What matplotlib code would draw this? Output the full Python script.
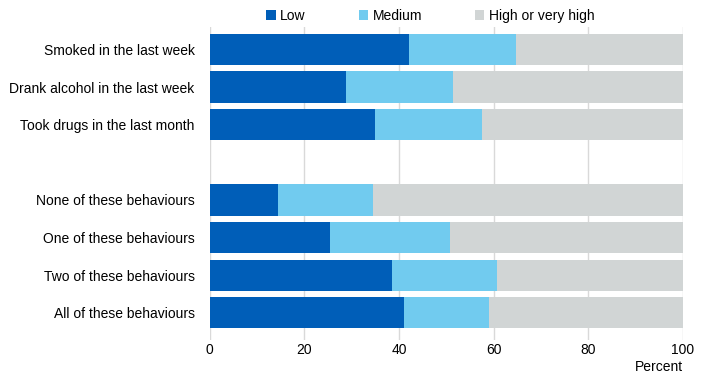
import matplotlib.pyplot as plt
import numpy as np

categories = ["Smoked in the last week", "Drank alcohol in the last week",
              "Took drugs in the last month", "",
              "None of these behaviours", "One of these behaviours",
              "Two of these behaviours", "All of these behaviours"]
low = [42.1, 28.8, 34.9, 0, 14.4, 25.4, 38.5, 41.0]
medium = [22.6, 22.6, 22.6, 0, 20.1, 25.3, 22.2, 18.0]
high = [35.3, 48.6, 42.5, 0, 65.5, 49.3, 39.3, 41.0]
series_names = ["Low", "Medium", "High or very high"]
colors = ["#005EB8", "#71CBEF", "#D1D5D5"]

plt.rcParams['font.family'] = ['Liberation Sans', 'DejaVu Sans']

fig = plt.figure(figsize=(7.09, 3.84), dpi=100)
ax = fig.add_axes([0.296, 0.115, 0.667, 0.815])

y = np.arange(len(categories))
left = np.zeros(len(categories))
for vals, name, c in zip([low, medium, high], series_names, colors):
    ax.barh(y, vals, left=left, height=0.83, color=c, label=name, zorder=3)
    left += np.array(vals)

ax.set_xlim(0, 100)
ax.set_ylim(7.72, -0.6)
ax.set_yticks(y)
ax.set_yticklabels(categories, fontsize=10)
ax.set_xticks(range(0, 101, 20))
ax.tick_params(axis='x', labelsize=10, length=0, pad=2)
ax.tick_params(axis='y', length=0, pad=11)
ax.grid(axis='x', color='#D9D9D9', linewidth=1, zorder=0)
for s in ax.spines.values():
    s.set_visible(False)

fig.text(0.963, 0.025, "Percent", ha='right', va='bottom', fontsize=10)
fig.legend(loc='upper center', bbox_to_anchor=(0.607, 1.01), ncol=3, frameon=False,
           fontsize=10, handlelength=0.7, handleheight=0.7, handletextpad=0.3,
           columnspacing=3.8)

plt.savefig("out.png", dpi=100)
